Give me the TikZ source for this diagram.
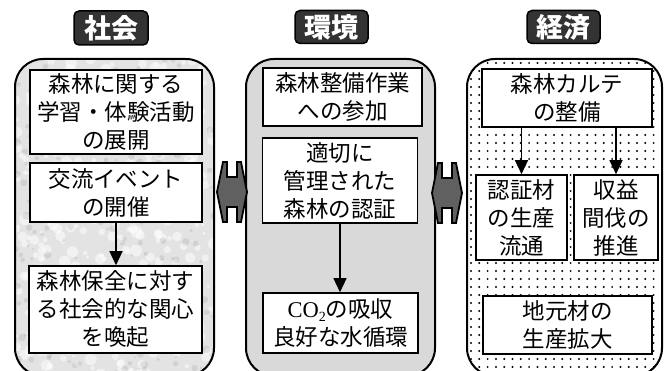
\documentclass[tikz,border=0pt]{standalone}
\usepackage{fontspec}
\setmainfont{Noto Sans CJK JP}
\newfontfamily\latinserif{Liberation Serif}
\usetikzlibrary{arrows.meta}
\definecolor{panelL}{HTML}{E3E3E3}
\definecolor{panelM}{HTML}{D9D9D9}
\definecolor{titlefill}{HTML}{333333}
\definecolor{hexfill}{HTML}{606060}
\tikzset{
  box/.style={draw=black, line width=1.6pt, fill=white, inner sep=0pt, align=center,
    font=\fontsize{22.5}{28}\selectfont},
  titlebox/.style={draw=black, line width=1.5pt, fill=titlefill, rounded corners=5pt,
    text=white, inner sep=0pt, font=\fontsize{27}{30}\selectfont\bfseries},
  panel/.style={draw=black, line width=2pt, rounded corners=28pt},
  arr/.style={draw=black, line width=1.4pt, -{Triangle[width=13pt,length=14pt]}},
  hexarrow/.style={draw=black, line width=1.8pt, fill=hexfill, line join=miter}
}
\begin{document}
\begin{tikzpicture}[x=1pt,y=1pt]
\useasboundingbox (0,0) rectangle (664,-371);
% panels
\fill[panelL, rounded corners=28pt] (15,-59) rectangle (214,-376);
\begin{scope}
  \path[clip, rounded corners=28pt] (15,-59) rectangle (214,-376);
  \pgfmathsetseed{7}
  \foreach \i in {1,...,420}{
    \pgfmathsetmacro\px{15+199*rnd}
    \pgfmathsetmacro\py{-59-317*rnd}
    \pgfmathsetmacro\pr{1.5+4.5*rnd}
    \fill[white, opacity=0.5] (\px,\py) circle[radius=\pr];
  }
  \foreach \i in {1,...,260}{
    \pgfmathsetmacro\px{15+199*rnd}
    \pgfmathsetmacro\py{-59-317*rnd}
    \pgfmathsetmacro\pr{1+3*rnd}
    \fill[black, opacity=0.08] (\px,\py) circle[radius=\pr];
  }
\end{scope}
\draw[panel] (15,-59) rectangle (214,-376);
\draw[panel, fill=panelM] (246,-59) rectangle (435,-376);
\begin{scope}
  \path[clip, rounded corners=28pt] (467,-59) rectangle (662,-376);
  \foreach \x in {471,479.3,...,662}{
    \foreach \y in {63,71,...,376}{
      \fill[black] (\x,-\y) circle[radius=1.1];
    }
  }
\end{scope}
\draw[panel] (467,-59) rectangle (662,-376);
% titles
\node[titlebox, minimum width=74pt, minimum height=34pt] (t1) at (111,-28) {社会};
\node[titlebox, minimum width=73pt, minimum height=33pt] (t2) at (331.5,-27) {環境};
\node[titlebox, minimum width=73pt, minimum height=33pt] (t3) at (563.5,-27) {経済};
% left boxes
\node[box, minimum width=172pt, minimum height=84pt] (L1) at (116,-112) {森林に関する\\学習・体験活動\\の展開};
\node[box, minimum width=172pt, minimum height=59pt] (L2) at (116,-192.5) {交流イベント\\の開催};
\node[box, minimum width=173pt, minimum height=87pt] (L3) at (115.5,-309.5) {森林保全に対す\\る社会的な関心\\を喚起};
\draw[arr] (L2.south) -- (L2.south |- L3.north);
% middle boxes
\node[box, minimum width=159pt, minimum height=58pt] (M1) at (342.5,-97) {森林整備作業\\への参加};
\node[box, minimum width=155pt, minimum height=85pt] (M2) at (340,-180.5) {適切に\\管理された\\森林の認証};
\node[box, minimum width=155pt, minimum height=60pt] (M3) at (340.5,-323) {{\latinserif CO\raisebox{-0.35ex}{\fontsize{14}{14}\selectfont 2}}の吸収\\良好な水循環};
\draw[arr] (M2.south) -- (M2.south |- M3.north);
% right boxes
\node[box, minimum width=170pt, minimum height=58pt] (R1) at (567,-98) {森林カルテ\\の整備};
\node[box, minimum width=91pt, minimum height=85pt] (R2) at (521.5,-217.5) {認証材\\の生産\\流通};
\node[box, minimum width=84pt, minimum height=85pt] (R3) at (616,-217.5) {収益\\間伐の\\推進};
\node[box, minimum width=169pt, minimum height=58pt] (R4) at (567.5,-325) {地元材の\\生産拡大};
\draw[arr] (R1.south -| R2.north) -- (R2.north);
\draw[arr] (R1.south -| R3.north) -- (R3.north);
% double arrows between panels
\draw[hexarrow] (217,-192) -- (223,-162) -- (227,-162) -- (227,-177) -- (237,-177) -- (237,-162)
  -- (241,-162) -- (247,-192) -- (241,-222) -- (237,-222) -- (237,-207) -- (227,-207)
  -- (227,-222) -- (223,-222) -- cycle;
\draw[hexarrow] (432,-193) -- (438,-163) -- (442,-163) -- (442,-178) -- (452,-178) -- (452,-163)
  -- (456,-163) -- (462,-193) -- (456,-223) -- (452,-223) -- (452,-208) -- (442,-208)
  -- (442,-223) -- (438,-223) -- cycle;
\end{tikzpicture}
\end{document}
